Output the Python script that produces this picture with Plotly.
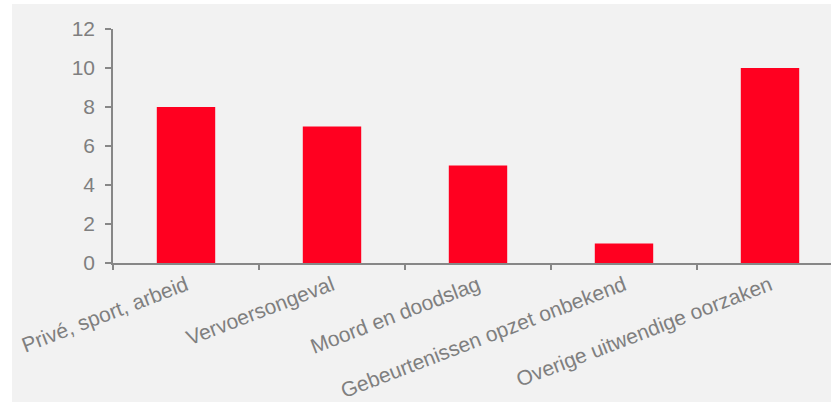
import plotly.graph_objects as go

categories = ["Privé, sport, arbeid", "Vervoersongeval", "Moord en doodslag",
              "Gebeurtenissen opzet onbekend", "Overige uitwendige oorzaken"]
values = [8, 7, 5, 1, 10]
y_ticks = [0, 2, 4, 6, 8, 10, 12]

W, H = 831, 403
L, R, T, B = 113, 0, 29, 140
pw, ph = W - L - R, H - T - B

fig = go.Figure(go.Bar(x=categories, y=values, marker=dict(color="#FF0020", line=dict(width=0)),
                       width=0.4, hoverinfo="skip"))

axis_col = "#878787"
font = dict(family="Liberation Sans, Arial, sans-serif", size=21, color="#7f7f7f")

# grey panel background
fig.add_shape(type="rect", xref="paper", yref="paper",
              x0=(12 - L) / pw, x1=1.0,
              y0=(T + ph - 402) / ph, y1=(T + ph - 4) / ph,
              fillcolor="#F2F2F2", line=dict(width=0), layer="below")

fig.update_layout(
    width=W, height=H,
    margin=dict(l=L, r=R, t=T, b=B, pad=0),
    paper_bgcolor="white", plot_bgcolor="rgba(0,0,0,0)",
    font=font, showlegend=False,
    xaxis=dict(type="category", range=[-0.5, 4.5 - 12 / 146], showline=True, linecolor=axis_col,
               linewidth=2, ticks="outside", tickson="boundaries", ticklen=5, tickcolor=axis_col,
               tickwidth=1.5, tickangle=-21, showgrid=False, zeroline=False, tickfont=font),
    yaxis=dict(range=[0, 12], tickvals=y_ticks, showline=True, linecolor=axis_col, linewidth=1.5,
               ticks="outside", ticklen=6, tickcolor=axis_col, tickwidth=1.5, showgrid=False,
               zeroline=False, tickfont=font, ticklabelstandoff=6),
)

fig.write_html("out.html", config={"displayModeBar": False},
               post_script="document.body.style.margin='0';")
